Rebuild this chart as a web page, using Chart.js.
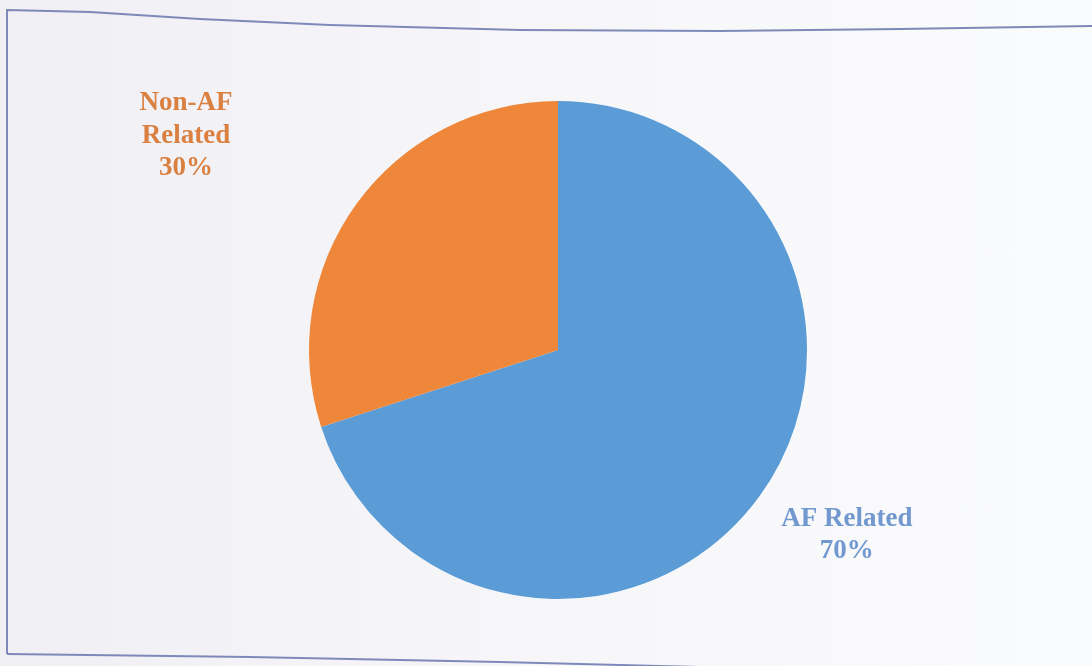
<!DOCTYPE html>
<html>
<head>
<meta charset="utf-8">
<title>AF related share</title>
<script src="https://cdn.jsdelivr.net/npm/chart.js@4/dist/chart.umd.min.js"></script>
<style>
  html, body { margin: 0; padding: 0; }
  body {
    width: 1092px; height: 666px; overflow: hidden;
    background: linear-gradient(90deg, #f0eff4 0%, #f6f6f9 45%, #fafbfc 100%);
  }
  #myChart { display: block; }
</style>
</head>
<body>
<canvas id="myChart" width="1092" height="666"></canvas>
<script>
// slice data
let labels = ['AF Related', 'Non-AF Related'];
let labelLines = [['AF Related'], ['Non-AF', 'Related']];
let values = [70, 30];
let colors = ['#5b9bd6', '#ee873a'];
let textColors = ['#7198cf', '#da8141'];

// where each label sits, relative to the pie centre, in radii
let labelSpots = [[1.16, 0.743], [-1.494, -0.861]];

// outline of the sheet the chart is printed on
let framePlugin = {
  id: 'frame',
  beforeDraw(chart) {
    let ctx = chart.ctx;
    ctx.save();
    ctx.strokeStyle = '#7f89b9';
    ctx.lineWidth = 2;
    ctx.beginPath();
    ctx.moveTo(7, 654);
    ctx.lineTo(7, 10);
    ctx.lineTo(90, 12);
    ctx.lineTo(200, 19);
    ctx.lineTo(330, 25);
    ctx.lineTo(520, 30);
    ctx.lineTo(720, 31);
    ctx.lineTo(900, 29);
    ctx.lineTo(1092, 26);
    ctx.stroke();
    ctx.beginPath();
    ctx.moveTo(7, 654);
    ctx.lineTo(250, 657);
    ctx.lineTo(500, 662);
    ctx.lineTo(700, 667);
    ctx.stroke();
    ctx.restore();
  }
};

let sliceLabels = {
  id: 'sliceLabels',
  afterDatasetsDraw(chart) {
    let ctx = chart.ctx;
    let meta = chart.getDatasetMeta(0);
    let total = values.reduce((a, b) => a + b, 0);
    ctx.save();
    ctx.font = 'bold 27px "Liberation Serif", "Times New Roman", serif';
    ctx.textAlign = 'center';
    ctx.textBaseline = 'middle';
    meta.data.forEach((arc, i) => {
      let r = arc.outerRadius;
      let cx = arc.x + labelSpots[i][0] * r;
      let cy = arc.y + labelSpots[i][1] * r;
      let lines = labelLines[i].concat([Math.round(values[i] / total * 100) + '%']);
      let lh = 32.5;
      let top = cy - (lines.length - 1) * lh / 2;
      ctx.fillStyle = textColors[i];
      lines.forEach((t, k) => ctx.fillText(t, cx, top + k * lh));
    });
    ctx.restore();
  }
};

let ctx = document.getElementById('myChart').getContext('2d');
window.chart = new Chart(ctx, {
  type: 'pie',
  data: {
    labels: labels,
    datasets: [{
      data: values,
      backgroundColor: colors,
      borderWidth: 0
    }]
  },
  options: {
    responsive: false,
    animation: false,
    layout: { padding: { left: 259, right: 235, top: 101, bottom: 67 } },
    plugins: {
      legend: { display: false },
      tooltip: { enabled: false }
    }
  },
  plugins: [framePlugin, sliceLabels]
});
</script>
</body>
</html>
